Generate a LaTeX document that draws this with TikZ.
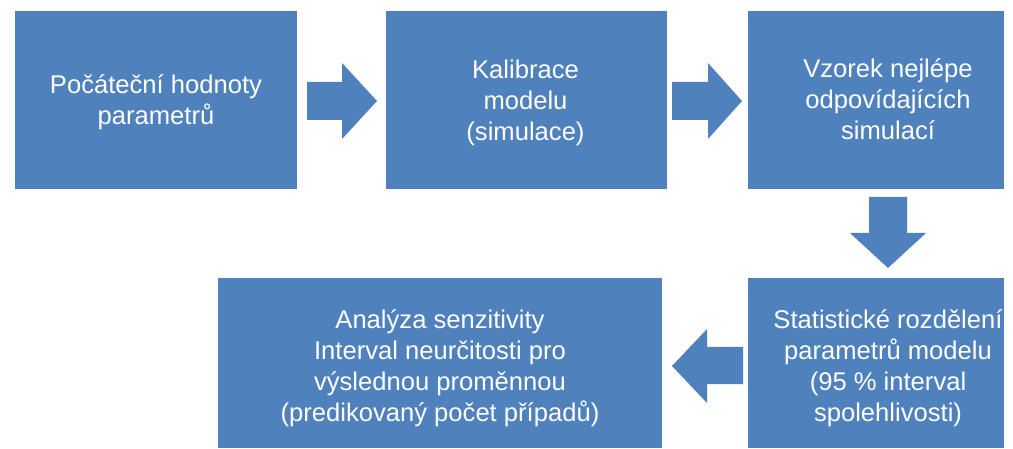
\documentclass[tikz,border=0pt]{standalone}
\usepackage{fontspec}
\setmainfont{Liberation Sans}
\definecolor{boxblue}{RGB}{79,129,189}
\begin{document}
\begin{tikzpicture}[x=1pt,y=-1pt,
  box/.style={fill=boxblue,draw=none,rectangle,inner sep=0pt},
  lbl/.style={inner sep=0pt,align=center,text=white,
    font=\fontsize{25.6pt}{31pt}\selectfont},
  arr/.style={fill=boxblue,draw=none}]
\useasboundingbox (0,0) rectangle (1013,449);
\node[box,minimum width=282pt,minimum height=178pt] (b1) at (156,100) {};
\node[box,minimum width=281pt,minimum height=178pt] (b2) at (526.5,100) {};
\node[box,minimum width=256pt,minimum height=178pt] (b3) at (876,100) {};
\node[box,minimum width=256pt,minimum height=170pt] (b4) at (876,363) {};
\node[box,minimum width=444pt,minimum height=170pt] (b5) at (440,363) {};
\node[lbl] (t1) at ([shift={(0,2)}]b1.center) {Počáteční hodnoty\\parametrů};
\node[lbl] (t2) at ([shift={(-1,2.5)}]b2.center) {Kalibrace\\modelu\\(simulace)};
\node[lbl] (t3) at ([shift={(12,-1)}]b3.center) {Vzorek nejlépe\\odpovídajících\\simulací};
\node[lbl] (t4) at ([shift={(12,5.5)}]b4.center) {Statistické rozdělení\\parametrů modelu\\(95 \% interval\\spolehlivosti)};
\node[lbl] (t5) at ([shift={(0,5)}]b5.center) {Analýza senzitivity\\Interval neurčitosti pro\\výslednou proměnnou\\(predikovaný počet případů)};
% block arrows
\fill[arr] (307,82) -- (342,82) -- (342,63) -- (377,101) -- (342,139) -- (342,120) -- (307,120) -- cycle;
\fill[arr] (672,82) -- (708,82) -- (708,63) -- (742,101) -- (708,139) -- (708,120) -- (672,120) -- cycle;
\fill[arr] (869,197) -- (907,197) -- (907,233) -- (926,233) -- (888,268) -- (850,233) -- (869,233) -- cycle;
\fill[arr] (743,347) -- (707,347) -- (707,329) -- (672,366) -- (707,403) -- (707,384) -- (743,384) -- cycle;
\end{tikzpicture}
\end{document}
